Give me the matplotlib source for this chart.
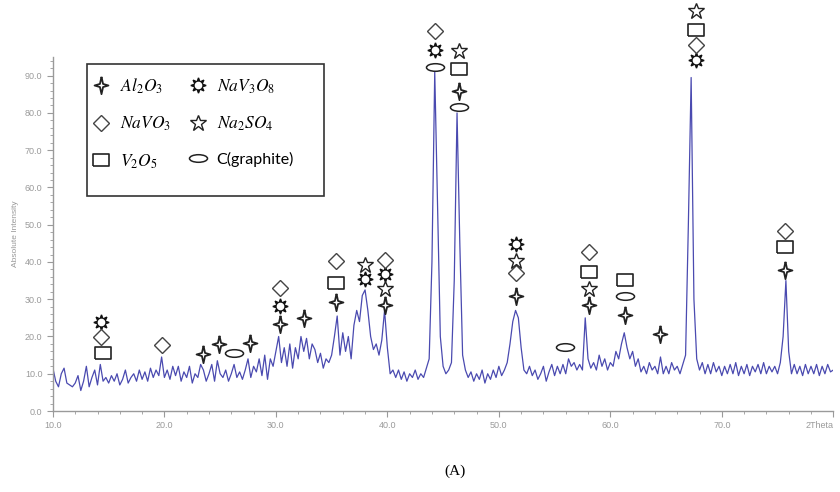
import numpy as np
import matplotlib
matplotlib.use("Agg")
import matplotlib.pyplot as plt
from matplotlib.path import Path
from matplotlib.lines import Line2D
from matplotlib.patches import Rectangle
from matplotlib.legend_handler import HandlerTuple
from matplotlib.ticker import MultipleLocator

plt.rcParams['mathtext.fontset'] = 'stix'

# XRD pattern, intensity every 0.25 deg 2theta from 10 to 80
two_theta = np.arange(10.0, 80.001, 0.25)
intensity = [
    11.5, 8, 6.5, 10, 11.5, 7.5, 7, 6.5, 7.5, 9.5, 5.5, 8, 12, 6.5, 9, 11,      # 10-14
    7, 12.5, 8, 9, 7.5, 9.5, 8, 10, 7, 8.5, 11, 7.5, 9, 10, 8, 11,              # 14-18
    8.5, 10.5, 8, 11.5, 9, 11, 9.5, 14.5, 9, 11, 8.5, 12, 9.5, 12, 8, 10.5,     # 18-22
    9, 12, 7.5, 10, 9, 12.5, 11, 8, 10, 12.5, 8, 13.5, 10, 9, 11, 8,            # 22-26
    10, 12.5, 9, 10.5, 8.5, 11, 14, 9, 12, 10.5, 14, 9.5, 15, 8.5, 14, 12,      # 26-30
    16, 20, 13, 17, 12, 18, 11.5, 17, 14, 20, 16, 19.5, 14, 18, 16.5, 13,       # 30-34
    15.5, 11.5, 14, 13, 15, 20, 25.5, 15, 21, 16, 20, 14, 23, 27, 24, 31,       # 34-38
    32.5, 27, 20, 16.5, 18, 15, 19, 27, 17, 10, 11, 9, 11, 8.5, 10.5, 8,        # 38-42
    10, 9, 11, 8.5, 10, 9, 11.5, 14, 40, 91, 55, 20, 12, 10, 11, 13,            # 42-46
    35, 80, 45, 15, 11, 9, 10.5, 8, 10, 8.5, 11, 7.5, 10, 8.5, 11, 9,           # 46-50
    12, 9.5, 11, 13, 18, 24, 27, 25, 17, 11, 10, 12, 9.5, 11, 8.5, 10,          # 50-54
    12, 8, 10.5, 12.5, 9.5, 12, 10, 12.5, 10, 14, 12, 13, 11, 12.5, 11, 25,     # 54-58
    14, 11.5, 13, 11, 15, 12, 14, 11, 13, 12, 16, 14, 18, 21, 17, 14,           # 58-62
    16, 12, 14, 10.5, 12, 10, 13, 11, 12, 10, 14.5, 10, 12, 10, 13, 11,         # 62-66
    12, 10, 12.5, 15, 50, 89.5, 30, 14, 11, 13, 10, 12.5, 10, 13, 10.5, 12,     # 66-70
    9.5, 12, 10, 12.5, 10, 13, 9.5, 12, 10, 12.5, 9.5, 12, 10.5, 12.5, 10, 13,  # 70-74
    10, 12, 10.5, 12, 10, 13, 20, 35, 16, 10, 12.5, 10, 12, 9.5, 12.5, 10,      # 74-78
    12, 10, 12.5, 9.5, 12, 10, 12.5, 10.5, 11,                                  # 78-80
]

# phase markers (2theta, height)
al2o3_x = [23.5, 24.9, 27.7, 30.4, 32.5, 35.4, 39.8, 46.4, 51.5, 58.1, 61.3, 64.5, 75.7]
al2o3_y = [15.3, 18.0, 18.3, 23.4, 25.0, 29.3, 28.5, 86.0, 30.9, 28.5, 25.8, 20.7, 37.9]
nav3o8_x = [14.3, 30.4, 38.0, 39.8, 44.3, 51.5, 67.7]
nav3o8_y = [23.9, 28.2, 35.5, 36.8, 96.8, 44.9, 94.1]
navo3_x = [14.3, 19.8, 30.4, 35.4, 39.8, 44.3, 51.5, 58.1, 67.7, 75.7]
navo3_y = [19.9, 17.7, 33.1, 40.3, 40.6, 101.9, 37.1, 42.7, 98.1, 48.4]
na2so4_x = [38.0, 39.8, 46.4, 51.5, 58.1, 67.7]
na2so4_y = [39.2, 32.8, 96.5, 40.3, 32.8, 107.3]
v2o5_x = [14.5, 35.4, 46.4, 58.1, 61.3, 67.7, 75.7]
v2o5_y = [15.6, 34.4, 91.7, 37.4, 35.2, 102.2, 44.1]
graph_x = [26.2, 44.3, 46.4, 55.9, 61.3]
graph_y = [15.6, 92.2, 81.7, 17.2, 30.9]

x_ticks = [10, 20, 30, 40, 50, 60, 70, 80]
x_labels = ['10.0', '20.0', '30.0', '40.0', '50.0', '60.0', '70.0', '2Theta']

# custom marker shapes
star4 = Path([(0, 1), (0.18, 0.18), (0.8, 0), (0.18, -0.18), (0, -1),
              (-0.18, -0.18), (-0.8, 0), (-0.18, 0.18), (0, 1)])
circ = Path.unit_circle()
ellipse = Path(circ.vertices * [1.0, 0.42], circ.codes)
rect = Path([(-1, -0.75), (1, -0.75), (1, 0.75), (-1, 0.75), (-1, -0.75)])

edge = '#222222'
grey = '#9a9a9a'

fig = plt.figure(figsize=(8.4, 4.92), dpi=100)
ax = fig.add_axes([0.063, 0.1646, 0.929, 0.7195])

ax.plot(two_theta, intensity, color='#4a4ab0', linewidth=0.9)

st_al = dict(marker=star4, markersize=12.5, mfc='white', mec=edge, mew=1.3)
st_g1 = dict(marker=(8, 1, 0), markersize=11, mfc='#111111', mec='#111111', mew=1)
st_g2 = dict(marker='o', markersize=4.5, mfc='white', mec='white')
st_d = dict(marker='D', markersize=8, mfc='white', mec='#444444', mew=1)
st_s = dict(marker='*', markersize=12, mfc='white', mec=edge, mew=1)
st_v = dict(marker=rect, markersize=11.5, mfc='white', mec=edge, mew=1.2)
st_c = dict(marker=ellipse, markersize=13, mfc='white', mec=edge, mew=1.1)

kw = dict(linestyle='none', clip_on=False, zorder=5)
ax.plot(al2o3_x, al2o3_y, **st_al, **kw)
ax.plot(nav3o8_x, nav3o8_y, **st_g1, **kw)
ax.plot(nav3o8_x, nav3o8_y, **st_g2, **kw)
ax.plot(navo3_x, navo3_y, **st_d, **kw)
ax.plot(na2so4_x, na2so4_y, **st_s, **kw)
ax.plot(v2o5_x, v2o5_y, **st_v, **kw)
ax.plot(graph_x, graph_y, **st_c, **kw)

ax.set_xlim(10, 80)
ax.set_ylim(0, 95)
for s in ['top', 'right']:
    ax.spines[s].set_visible(False)
for s in ['left', 'bottom']:
    ax.spines[s].set_color(grey)
    ax.spines[s].set_linewidth(1)

ax.set_xticks(x_ticks)
ax.set_xticklabels(x_labels)
ax.xaxis.set_minor_locator(MultipleLocator(2))
ax.yaxis.set_major_locator(MultipleLocator(10))
ax.yaxis.set_minor_locator(MultipleLocator(2))
ax.yaxis.set_major_formatter(plt.FormatStrFormatter('%.1f'))
ax.tick_params(which='both', colors=grey, labelsize=6.5, labelcolor=grey)
ax.tick_params(which='major', length=4)
ax.tick_params(which='minor', length=2.5)
ax.get_xticklabels()[-1].set_ha('right')
for t in ax.get_xticklabels() + ax.get_yticklabels():
    t.set_family('Liberation Sans')
ax.set_ylabel('Absolute Intensity', fontsize=6, color=grey, family='Liberation Sans', labelpad=4)

# legend (frame drawn separately so it can be taller than its entries)
ln = dict(linestyle='none')
handles = [Line2D([], [], **st_al, **ln), Line2D([], [], **st_d, **ln), Line2D([], [], **st_v, **ln),
           (Line2D([], [], **st_g1, **ln), Line2D([], [], **st_g2, **ln)),
           Line2D([], [], **st_s, **ln), Line2D([], [], **st_c, **ln)]
labels = [r'$Al_2O_3$', r'$NaVO_3$', r'$V_2O_5$', r'$NaV_3O_8$', r'$Na_2SO_4$', 'C(graphite)']
leg = ax.legend(handles, labels, ncol=2, loc='upper left', bbox_to_anchor=(0.051, 0.946),
                handler_map={tuple: HandlerTuple(ndivide=1, pad=0)},
                frameon=False, fontsize=12.5,
                labelspacing=1.1, handlelength=1.0, handletextpad=0.6, columnspacing=1.0,
                borderpad=0, borderaxespad=0)
leg.get_texts()[-1].set_family('Lato')
leg.get_texts()[-1].set_fontsize(11.5)
ax.add_patch(Rectangle((0.0435, 0.607), 0.3045, 0.373, transform=ax.transAxes,
                       fill=False, edgecolor='#333333', linewidth=1.2, zorder=6))

fig.text(0.542, 0.035, '(A)', fontsize=11, family='Liberation Serif', ha='center')

fig.savefig('out.png', dpi=100)
